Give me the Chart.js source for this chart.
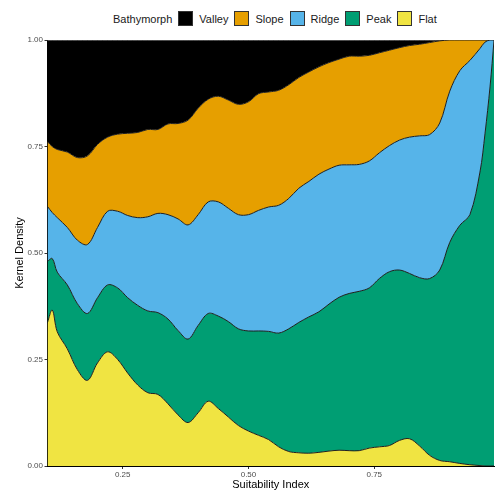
<!DOCTYPE html>
<html lang="en">
<head>
<meta charset="UTF-8">
<title>Bathymorph density</title>
<script src="https://cdn.jsdelivr.net/npm/chart.js"></script>
<style>
  html, body { margin: 0; padding: 0; background: #fff; }
  body { width: 495px; height: 492px; position: relative; overflow: hidden; font-family: "Liberation Sans", Arial, sans-serif; }
  #chart { position: absolute; left: 0; top: 0; }
  #legend { position: absolute; left: 113px; top: 11px; display: flex; align-items: center; font-size: 11px; color: #1a1a1a; white-space: nowrap; }
  #legend .title { margin-right: 6px; }
  #legend .box { width: 13px; height: 13px; border: 1px solid #333; margin-right: 6px; }
  #legend .lab { margin-right: 6px; }
</style>
</head>
<body>
<div id="legend"></div>
<canvas id="chart" width="495" height="492"></canvas>
<script>
// Suitability index positions
const xs = [0.10, 0.11, 0.12, 0.14, 0.16, 0.18, 0.20, 0.22, 0.24, 0.26, 0.28, 0.30, 0.32, 0.34, 0.36, 0.38,
            0.40, 0.42, 0.44, 0.46, 0.48, 0.50, 0.52, 0.54, 0.56, 0.58, 0.60, 0.62, 0.64, 0.66, 0.68, 0.70,
            0.72, 0.74, 0.76, 0.78, 0.80, 0.82, 0.84, 0.86, 0.88, 0.90, 0.92, 0.94, 0.96, 0.97, 0.98, 0.988];

// upper edge of each stacked band (position = fill)
const flatTop  = [0.335, 0.366, 0.315, 0.275, 0.226, 0.201, 0.242, 0.268, 0.250, 0.218, 0.190, 0.172, 0.168, 0.146, 0.120, 0.102,
                  0.125, 0.152, 0.135, 0.115, 0.095, 0.082, 0.072, 0.062, 0.045, 0.034, 0.031, 0.030, 0.032, 0.035, 0.037, 0.036,
                  0.036, 0.042, 0.045, 0.048, 0.060, 0.064, 0.047, 0.025, 0.013, 0.010, 0.006, 0.003, 0.001, 0, 0, 0];
const peakTop  = [0.480, 0.487, 0.455, 0.425, 0.381, 0.358, 0.395, 0.425, 0.418, 0.395, 0.377, 0.364, 0.360, 0.345, 0.318, 0.298,
                  0.330, 0.358, 0.352, 0.339, 0.322, 0.317, 0.317, 0.316, 0.312, 0.322, 0.337, 0.350, 0.362, 0.380, 0.396, 0.405,
                  0.410, 0.418, 0.440, 0.456, 0.460, 0.452, 0.442, 0.440, 0.460, 0.525, 0.565, 0.590, 0.690, 0.780, 0.890, 1.0];
const ridgeTop = [0.610, 0.595, 0.583, 0.560, 0.530, 0.520, 0.560, 0.598, 0.598, 0.588, 0.583, 0.585, 0.593, 0.590, 0.580, 0.566,
                  0.590, 0.620, 0.620, 0.605, 0.590, 0.590, 0.600, 0.608, 0.612, 0.628, 0.652, 0.668, 0.685, 0.697, 0.706, 0.707,
                  0.708, 0.716, 0.735, 0.752, 0.765, 0.772, 0.775, 0.778, 0.805, 0.880, 0.928, 0.952, 0.980, 0.995, 1.0, 1.0];
const slopeTop = [0.762, 0.750, 0.743, 0.737, 0.724, 0.728, 0.755, 0.772, 0.779, 0.781, 0.783, 0.790, 0.790, 0.803, 0.804, 0.812,
                  0.840, 0.861, 0.868, 0.859, 0.849, 0.855, 0.874, 0.878, 0.882, 0.895, 0.912, 0.925, 0.937, 0.947, 0.955, 0.962,
                  0.962, 0.964, 0.970, 0.976, 0.982, 0.987, 0.990, 0.994, 0.998, 1.0, 1.0, 1.0, 1.0, 1.0, 1.0, 1.0];
const valleyTop = xs.map(() => 1);

const categories = ['Valley', 'Slope', 'Ridge', 'Peak', 'Flat'];
const colors = { Valley: '#000000', Slope: '#E69F00', Ridge: '#56B4E9', Peak: '#009E73', Flat: '#F0E442' };
const xTicks = [0.25, 0.50, 0.75];
const yTicks = [0, 0.25, 0.50, 0.75, 1.00];

// legend
const legend = document.getElementById('legend');
legend.innerHTML = '<span class="title">Bathymorph</span>' +
  categories.map(c => `<span class="box" style="background:${colors[c]}"></span><span class="lab">${c}</span>`).join('');

function band(name, tops, fill, edge) {
  return {
    label: name,
    data: xs.map((x, i) => ({ x: x, y: tops[i] })),
    backgroundColor: colors[name],
    borderColor: edge || '#1f1f1f',
    borderWidth: 1,
    pointRadius: 0,
    fill: fill,
    tension: 0.35
  };
}

const ctx = document.getElementById('chart').getContext('2d');
new Chart(ctx, {
  type: 'line',
  data: {
    datasets: [
      band('Flat', flatTop, 'origin'),
      band('Peak', peakTop, '-1'),
      band('Ridge', ridgeTop, '-1'),
      band('Slope', slopeTop, '-1'),
      band('Valley', valleyTop, '-1', '#9a9a9a')
    ]
  },
  options: {
    responsive: false,
    animation: false,
    layout: { padding: { top: 40, right: 1, left: 0, bottom: 0 } },
    plugins: { legend: { display: false }, tooltip: { enabled: false } },
    scales: {
      x: {
        type: 'linear',
        min: 0.1006,
        max: 0.9879,
        afterBuildTicks: s => { s.ticks = xTicks.map(v => ({ value: v })); },
        afterFit: s => { s.height = 26; },
        grid: { display: true, drawOnChartArea: false, drawTicks: true, tickLength: 3, color: '#333' },
        border: { display: true, color: '#000', width: 1 },
        ticks: { color: '#4d4d4d', font: { size: 8, family: 'Liberation Sans' }, padding: 1, maxRotation: 0,
                 callback: v => v.toFixed(2) },
        title: { display: true, text: 'Suitability Index', color: '#000', padding: { top: 0, bottom: 0 },
                 font: { size: 11, family: 'Liberation Sans' } }
      },
      y: {
        min: 0,
        max: 1,
        afterBuildTicks: s => { s.ticks = yTicks.map(v => ({ value: v })); },
        afterFit: s => { s.width = 47.5; },
        grid: { display: true, drawOnChartArea: false, drawTicks: true, tickLength: 3, color: '#333' },
        border: { display: true, color: '#000', width: 1 },
        ticks: { color: '#4d4d4d', font: { size: 8, family: 'Liberation Sans' }, padding: 1.5,
                 callback: v => v.toFixed(2) },
        title: { display: true, text: 'Kernel Density', color: '#000', padding: { top: 13, bottom: 0 },
                 font: { size: 11, family: 'Liberation Sans' } }
      }
    }
  }
});
</script>
</body>
</html>
